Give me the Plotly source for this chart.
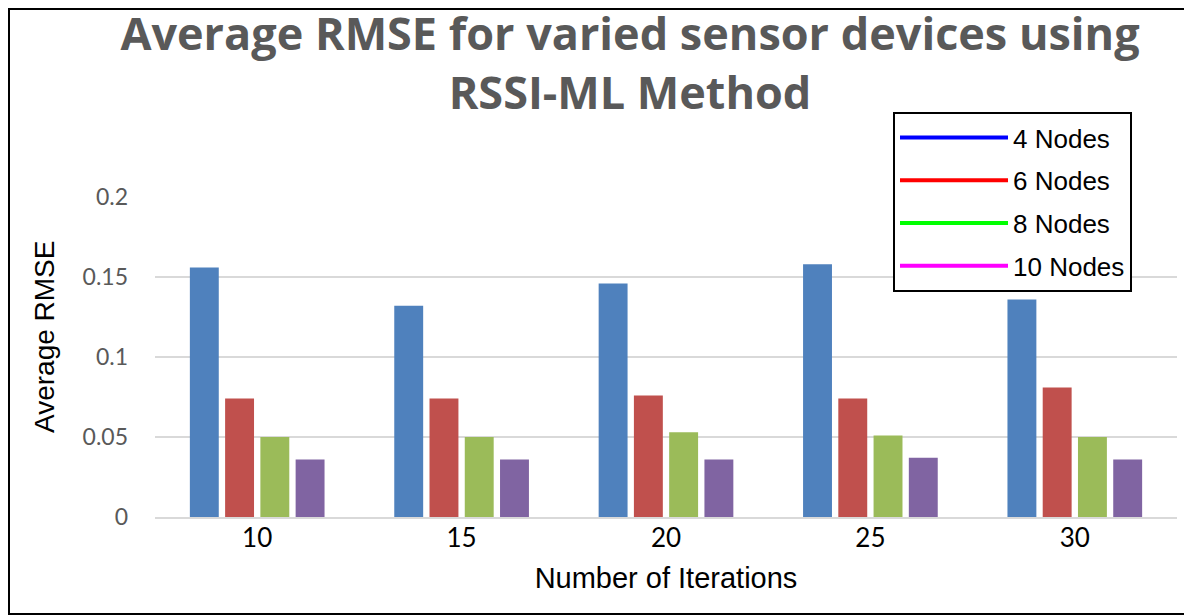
import plotly.graph_objects as go

iterations = ["10", "15", "20", "25", "30"]
series_names = ["4 Nodes", "6 Nodes", "8 Nodes", "10 Nodes"]
rmse_4 = [0.156, 0.132, 0.146, 0.158, 0.136]
rmse_6 = [0.074, 0.074, 0.076, 0.074, 0.081]
rmse_8 = [0.050, 0.050, 0.053, 0.051, 0.050]
rmse_10 = [0.036, 0.036, 0.036, 0.037, 0.036]
y_ticks = [0, 0.05, 0.1, 0.15, 0.2]
y_tick_labels = ["0", "0.05", "0.1", "0.15", "0.2"]

bar_colors = ["#4F81BD", "#C0504D", "#9BBB59", "#8064A2"]
legend_colors = ["#0000FF", "#FF0000", "#00FF00", "#FF00FF"]

# the page body adds an 8px offset; layout is expressed in figure pixels
W, H = 1192, 615
ML, MR, MT, MB = 147, 23, 189, 106

fig = go.Figure()
for name, vals, col in zip(series_names, [rmse_4, rmse_6, rmse_8, rmse_10], bar_colors):
    fig.add_trace(go.Bar(x=iterations, y=vals, name=name, marker_color=col,
                         marker_line_width=0, showlegend=False))
for i, (name, col) in enumerate(zip(series_names, legend_colors)):
    fig.add_trace(go.Scatter(x=[iterations[0]], y=[None], mode="lines", name=name,
                             line=dict(color=col, width=4), legendgroup=f"g{i}",
                             hoverinfo="skip"))

pw = W - ML - MR
ph = H - MT - MB

def px_x(p):
    return (p - ML) / pw

def px_y(p):
    return (H - MB - p) / ph

fig.update_layout(
    width=W, height=H,
    margin=dict(l=ML, r=MR, t=MT, b=MB),
    paper_bgcolor="white", plot_bgcolor="white",
    barmode="group", bargap=0.31, bargroupgap=0.18,
    title=dict(text="Average RMSE for varied sensor devices using<br>RSSI-ML Method",
               x=(630 - 8) / W, xanchor="center", y=1 - 42 / H, yanchor="top",
               font=dict(family="Open Sans", size=45, color="#595959", weight="bold")),
    xaxis=dict(type="category", showgrid=False, showline=True, linecolor="#D9D9D9", linewidth=2,
               tickfont=dict(family="Lato", size=26, color="#000000"),
               ticklabelstandoff=-3,
               title=dict(text="Number of Iterations", standoff=15,
                          font=dict(family="Liberation Sans", size=29, color="#000000"))),
    yaxis=dict(range=[0, 0.2], tickvals=y_ticks, ticktext=y_tick_labels,
               showgrid=True, gridcolor="#D9D9D9", gridwidth=2, zeroline=False,
               tickfont=dict(family="Lato", size=23, color="#595959"),
               ticklabelstandoff=26),
    annotations=[dict(text="Average RMSE", textangle=-90, showarrow=False,
                      xref="paper", yref="paper", x=px_x(44 - 8), y=px_y(337 - 8),
                      xanchor="center", yanchor="middle",
                      font=dict(family="Liberation Sans", size=28, color="#000000"))],
    legend=dict(x=px_x(893 - 8), y=px_y(112 - 8), xanchor="left", yanchor="top",
                bgcolor="white", bordercolor="#000000", borderwidth=2,
                font=dict(family="Liberation Sans", size=26, color="#000000"),
                itemwidth=108, tracegroupgap=6, traceorder="grouped"),
    shapes=[dict(type="rect", xref="paper", yref="paper",
                 x0=px_x(1), x1=px_x(1195), y0=px_y(606), y1=px_y(1),
                 line=dict(color="#000000", width=2), fillcolor="rgba(0,0,0,0)", layer="above")],
)

fig.write_html("out.html")
